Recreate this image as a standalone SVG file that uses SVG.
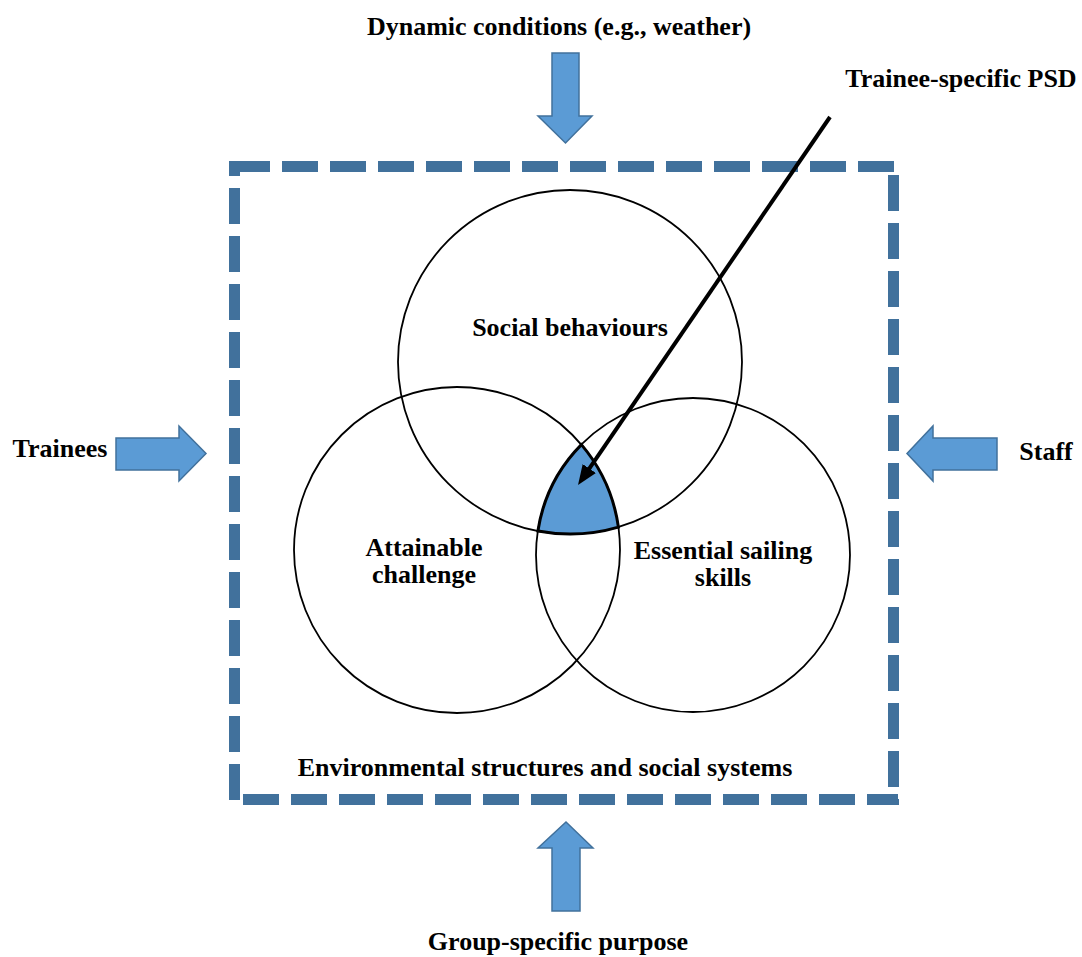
<svg xmlns="http://www.w3.org/2000/svg" width="1082" height="957" viewBox="0 0 1082 957">
<style>
.t{font-family:"Liberation Serif","Times New Roman",serif;font-weight:bold;font-size:26px;fill:#000;text-anchor:middle}
.blk{fill:#5B9BD5;stroke:#41719C;stroke-width:1.5;stroke-linejoin:miter}
.dash{stroke:#41719C;stroke-width:11;stroke-dasharray:36 12;fill:none}
.circ{fill:none;stroke:#000;stroke-width:1.8}
</style>
<defs>
<marker id="ah" viewBox="0 0 20 16" refX="8" refY="8" markerWidth="20" markerHeight="16" markerUnits="userSpaceOnUse" orient="auto">
<path d="M0,0 L20,8 L0,16 z" fill="#000"/>
</marker>
</defs>
<rect width="1082" height="957" fill="#fff"/>
<g id="boundary">
<line class="dash" x1="234.5" y1="161" x2="234.5" y2="800" stroke-dashoffset="21"/>
<line class="dash" x1="234" y1="166.5" x2="894" y2="166.5"/>
<line class="dash" x1="893.5" y1="175" x2="893.5" y2="805"/>
<line class="dash" x1="243" y1="799.5" x2="898" y2="799.5"/>
</g>
<g id="circle-social">
<circle class="circ" cx="570" cy="362" r="172"/>
<text class="t" x="570" y="336">Social behaviours</text>
</g>
<g id="circle-attainable">
<circle class="circ" cx="457" cy="550" r="163"/>
<text class="t" x="424" y="556">Attainable</text>
<text class="t" x="424" y="583">challenge</text>
</g>
<g id="circle-sailing">
<circle class="circ" cx="693" cy="555" r="157"/>
<text class="t" x="723" y="559">Essential sailing</text>
<text class="t" x="723" y="586">skills</text>
</g>
<g id="psd-region">
<path d="M581.4,444.6 A157,157 0 0 0 537.9,531 A172,172 0 0 0 618.4,527.1 A163,163 0 0 0 581.4,444.6 Z" fill="#5B9BD5" stroke="#000" stroke-width="3"/>
</g>
<g id="arrow-dynamic">
<polygon class="blk" points="552,53 579,53 579,116 592,116 565.5,143 538,116 552,116"/>
<text class="t" x="559" y="35">Dynamic conditions (e.g., weather)</text>
</g>
<g id="arrow-trainees">
<polygon class="blk" points="116,438 179,438 179,426 206,453.5 179,481 179,470 116,470"/>
<text class="t" x="60" y="457">Trainees</text>
</g>
<g id="arrow-staff">
<polygon class="blk" points="907,453.5 933,426 933,438 997,438 997,470 933,470 933,481"/>
<text class="t" x="1046" y="460">Staff</text>
</g>
<g id="arrow-purpose">
<polygon class="blk" points="566,822 593,848 580,848 580,911 552,911 552,848 538,848"/>
<text class="t" x="558" y="950">Group-specific purpose</text>
</g>
<g id="label-env">
<text class="t" x="545" y="776">Environmental structures and social systems</text>
</g>
<g id="label-psd">
<text class="t" x="961" y="87">Trainee-specific PSD</text>
</g>
<g id="connectors">
<line x1="830" y1="117" x2="584.8" y2="475.1" stroke="#000" stroke-width="4" marker-end="url(#ah)"/>
</g>
</svg>
